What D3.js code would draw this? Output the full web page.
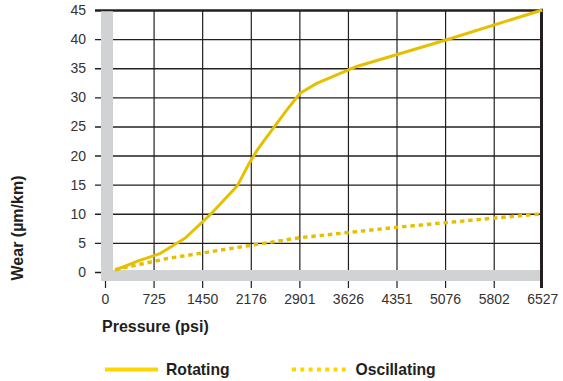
<!DOCTYPE html>
<html>
<head>
<meta charset="utf-8">
<script src="https://cdn.jsdelivr.net/npm/d3@7"></script>
<style>
  html, body { margin: 0; padding: 0; background: #fff; }
  svg { display: block; font-family: "Liberation Sans", Arial, Helvetica, sans-serif; }
</style>
</head>
<body>
<svg id="chart" width="563" height="381"></svg>
<script>
// ---- data ----
const pressureTicks = [0, 725, 1450, 2176, 2901, 3626, 4351, 5076, 5802, 6527];
const wearTicks = [0, 5, 10, 15, 20, 25, 30, 35, 40, 45];
const rotatingPressure = [149, 497, 810, 1194, 1567, 1975, 2139, 2264, 2363, 2712, 2911, 3160, 3757, 5100, 6527];
const rotatingWear     = [0.3, 1.9, 3.1, 5.8, 9.8, 14.8, 18.4, 20.8, 22.4, 27.8, 30.7, 32.4, 35.3, 39.9, 45];
const oscillatingPressure = [149, 921, 1911, 2911, 4378, 5847, 6527];
const oscillatingWear     = [0.4, 2.3, 4.1, 5.9, 7.7, 9.3, 10];
const seriesNames = ["Rotating", "Oscillating"];
const xTitle = "Pressure (psi)";
const yTitle = "Wear (µm/km)";

// ---- layout ----
const svg = d3.select("#chart");
const gridColor = "#231f20";
const lineColor = "#e6c000";
const legendColor = "#ffd500";
const bandColor = "#d1d2d4";

const x = d3.scaleLinear().domain([0, 6527]).range([105, 542.3]);
const y = d3.scaleLinear().domain([0, 45]).range([272, 10]);

const leftX = 95, rightX = 541.5, topY = 10, bottomTick = 288;

// y axis with gridlines
const yAxis = svg.append("g")
  .attr("transform", `translate(${leftX},0)`)
  .call(d3.axisLeft(y).tickValues(wearTicks).tickSize(-(rightX - leftX)).tickPadding(9).tickFormat(d3.format("d")));
yAxis.select(".domain").remove();
yAxis.selectAll(".tick line").attr("stroke", gridColor).attr("stroke-width", 1.4);
yAxis.selectAll(".tick").filter(d => d === 45).select("line").attr("stroke-width", 2.7);
yAxis.selectAll(".tick text").attr("fill", "#333").attr("font-size", 14).attr("font-family", "Liberation Sans, Arial, sans-serif");

// x axis with gridlines
const xAxis = svg.append("g")
  .attr("transform", `translate(0,${topY})`)
  .call(d3.axisBottom(x).tickValues(pressureTicks).tickSize(bottomTick - topY).tickPadding(6).tickFormat(d3.format("d")));
xAxis.select(".domain").remove();
xAxis.selectAll(".tick line").attr("stroke", gridColor).attr("stroke-width", 1.2);
xAxis.selectAll(".tick").filter(d => d === 6527).select("line").attr("stroke-width", 0);
xAxis.selectAll(".tick text").attr("fill", "#333").attr("font-size", 14).attr("font-family", "Liberation Sans, Arial, sans-serif");

// right frame line
svg.append("line").attr("x1", rightX).attr("x2", rightX).attr("y1", topY - 1.3).attr("y2", bottomTick)
  .attr("stroke", gridColor).attr("stroke-width", 3);

// grey L-shaped band
svg.append("rect").attr("x", 101).attr("y", 11.3).attr("width", 12).attr("height", 281 - 11.3).attr("fill", bandColor);
svg.append("rect").attr("x", 101).attr("y", 270).attr("width", 540 - 101).attr("height", 11).attr("fill", bandColor);

// lines
const line = d3.line().x(d => x(d[0])).y(d => y(d[1])).curve(d3.curveLinear);
const rotating = rotatingPressure.map((p, i) => [p, rotatingWear[i]]);
const oscillating = oscillatingPressure.map((p, i) => [p, oscillatingWear[i]]);

svg.append("path").datum(oscillating).attr("d", line)
  .attr("fill", "none").attr("stroke", lineColor).attr("stroke-width", 3.4).attr("stroke-dasharray", "4.5,3.8");
svg.append("path").datum(rotating).attr("d", line)
  .attr("fill", "none").attr("stroke", lineColor).attr("stroke-width", 3).attr("stroke-linejoin", "round");

// axis titles
svg.append("text").attr("x", 102).attr("y", 332).text(xTitle)
  .attr("font-size", 16).attr("font-weight", "bold").attr("fill", gridColor);
svg.append("text").attr("transform", "translate(23,228) rotate(-90)").attr("text-anchor", "middle").text(yTitle)
  .attr("font-size", 16).attr("font-weight", "bold").attr("fill", gridColor);

// legend
const legend = svg.append("g");
legend.append("line").attr("x1", 105).attr("x2", 158).attr("y1", 369.5).attr("y2", 369.5)
  .attr("stroke", legendColor).attr("stroke-width", 4);
legend.append("text").attr("x", 166).attr("y", 375).text(seriesNames[0])
  .attr("font-size", 15.7).attr("font-weight", "bold").attr("fill", gridColor);
legend.append("line").attr("x1", 292).attr("x2", 346).attr("y1", 369.5).attr("y2", 369.5)
  .attr("stroke", legendColor).attr("stroke-width", 4).attr("stroke-dasharray", "4,4.3");
legend.append("text").attr("x", 355.5).attr("y", 375).text(seriesNames[1])
  .attr("font-size", 15.7).attr("font-weight", "bold").attr("fill", gridColor);
</script>
</body>
</html>
